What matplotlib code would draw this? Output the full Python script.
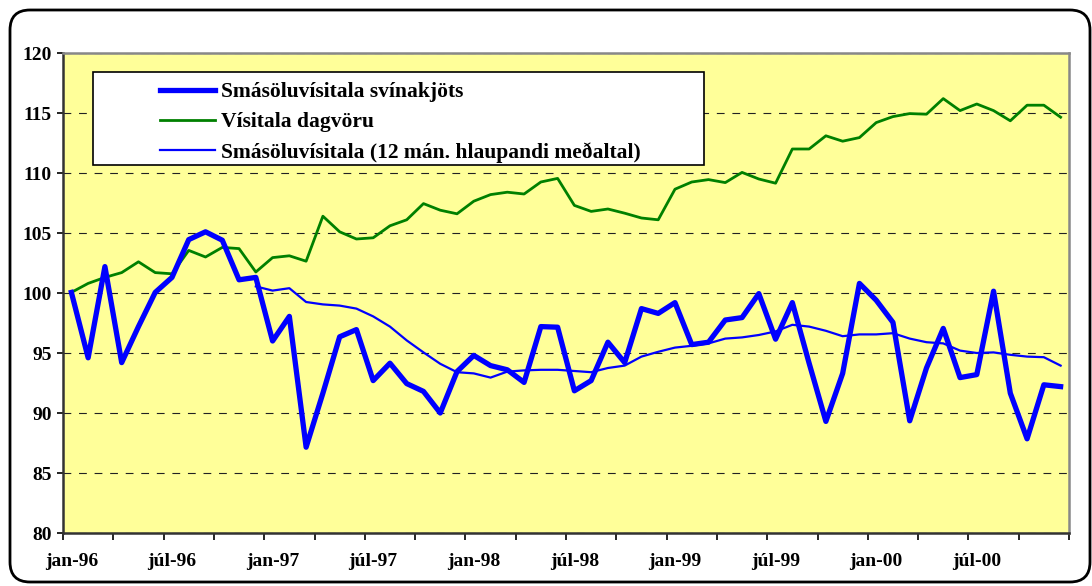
import matplotlib
matplotlib.use("Agg")
import matplotlib.pyplot as plt
from matplotlib.patches import FancyBboxPatch, Rectangle
from matplotlib.lines import Line2D
import numpy as np

months = [f"{m}-{y}" for y in ["96", "97", "98", "99", "00"]
          for m in ["jan", "feb", "mar", "apr", "maí", "jún", "júl", "ágú", "sep", "okt", "nóv", "des"]]

svin = [100.05, 94.6, 102.2, 94.2, 97.2, 100.05, 101.3, 104.45, 105.1, 104.4, 101.1, 101.3,
        96.0, 98.05, 87.15, 91.65, 96.35, 96.95, 92.7, 94.15, 92.45, 91.8, 90.0, 93.45,
        94.8, 93.95, 93.6, 92.55, 97.2, 97.15, 91.85, 92.7, 95.9, 94.2, 98.7, 98.3,
        99.2, 95.7, 95.9, 97.75, 97.95, 99.95, 96.15, 99.2, 94.15, 89.3, 93.3, 100.8,
        99.4, 97.55, 89.35, 93.75, 97.05, 92.95, 93.2, 100.15, 91.65, 87.85, 92.35, 92.2]

dagvara = [100.05, 100.8, 101.3, 101.7, 102.6, 101.7, 101.6, 103.55, 103.0, 103.8, 103.7, 101.75,
           102.95, 103.1, 102.65, 106.4, 105.1, 104.5, 104.6, 105.6, 106.1, 107.45, 106.9, 106.6,
           107.65, 108.2, 108.4, 108.25, 109.25, 109.55, 107.3, 106.8, 107.0, 106.65, 106.25, 106.1,
           108.65, 109.25, 109.45, 109.2, 110.05, 109.5, 109.15, 112.0, 112.0, 113.1, 112.65, 112.95,
           114.2, 114.7, 114.95, 114.9, 116.2, 115.2, 115.75, 115.2, 114.35, 115.65, 115.65, 114.65]

medaltal = [np.nan] * 11 + [
    100.55, 100.2, 100.4, 99.25, 99.05, 98.95, 98.7, 98.05, 97.2, 96.05, 95.05, 94.1,
    93.4, 93.3, 92.95, 93.45, 93.55, 93.6, 93.6, 93.5, 93.4, 93.75, 93.95, 94.7,
    95.1, 95.45, 95.6, 95.8, 96.2, 96.3, 96.5, 96.8, 97.35, 97.2, 96.85, 96.4,
    96.55, 96.55, 96.65, 96.2, 95.9, 95.8, 95.2, 95.0, 95.05, 94.85, 94.7, 94.65, 93.95]

labels = ["Smásöluvísitala svínakjöts", "Vísitala dagvöru",
          "Smásöluvísitala (12 mán. hlaupandi meðaltal)"]

plt.rcParams['font.family'] = ['Liberation Serif', 'DejaVu Serif']
plt.rcParams['font.weight'] = 'bold'

W, H = 1092, 586
fig = plt.figure(figsize=(W / 100, H / 100), dpi=100)
fig.patch.set_facecolor('white')

# chart border (rounded)
border = FancyBboxPatch((10 / 100, 4 / 100), 1080 / 100, 572 / 100,
                        boxstyle="round,pad=0,rounding_size=0.2",
                        transform=fig.dpi_scale_trans, facecolor='none',
                        edgecolor='black', linewidth=2.0)
fig.patches.append(border)

ax = fig.add_axes([63 / W, 1 - 533 / H, (1069 - 63) / W, (533 - 53) / H])
ax.set_facecolor('#FFFF99')

x = np.arange(len(months))
ax.plot(x, svin, color='#0000FF', linewidth=3.8, zorder=4)
ax.plot(x, dagvara, color='#008000', linewidth=2.0, zorder=3)
ax.plot(x, medaltal, color='#0000FF', linewidth=1.6, zorder=3)

ax.set_xlim(-0.5, len(months) - 0.5)
ax.set_ylim(80, 120)
ax.set_yticks(np.arange(80, 121, 5))
ax.yaxis.grid(True, color='#222222', linewidth=0.8, linestyle=(0, (7, 7)))
ax.set_axisbelow(True)

# x axis: ticks at category boundaries every 3 months, labels every 6 months
ax.set_xticks(np.arange(-0.5, len(months), 3))
ax.set_xticklabels([])
ax.set_xticks(np.arange(0, len(months), 6), minor=True)
ax.set_xticklabels([months[i] for i in range(0, len(months), 6)], minor=True)
ax.tick_params(axis='x', which='major', length=5, width=1.2, color='black', direction='out')
ax.tick_params(axis='x', which='minor', length=0, pad=14.5, labelsize=14)
ax.tick_params(axis='y', length=4, width=1.2, color='black', pad=4, labelsize=14)

for sp in ['left', 'bottom']:
    ax.spines[sp].set_color('#333333')
    ax.spines[sp].set_linewidth(1.8)
for sp in ['top', 'right']:
    ax.spines[sp].set_color('#888888')
    ax.spines[sp].set_linewidth(1.8)

# legend box
lx0, ly0, lx1, ly1 = 93, 72, 704, 165
box = Rectangle((lx0 / W, 1 - ly1 / H), (lx1 - lx0) / W, (ly1 - ly0) / H,
                transform=fig.transFigure, facecolor='white', edgecolor='black',
                linewidth=1.2, zorder=5)
fig.patches.append(box)

handles = [Line2D([], [], color='#0000FF', linewidth=3.8),
           Line2D([], [], color='#008000', linewidth=2.0),
           Line2D([], [], color='#0000FF', linewidth=1.6)]
leg = fig.legend(handles, labels, loc='upper left',
                 bbox_to_anchor=(142 / W, 1 - 64 / H), frameon=False,
                 prop={'family': 'Liberation Serif', 'weight': 'bold', 'size': 15.5},
                 handlelength=2.55, handletextpad=0.25, labelspacing=0.45,
                 borderpad=0.35)
leg.set_zorder(6)

fig.savefig('out.png', dpi=100)
